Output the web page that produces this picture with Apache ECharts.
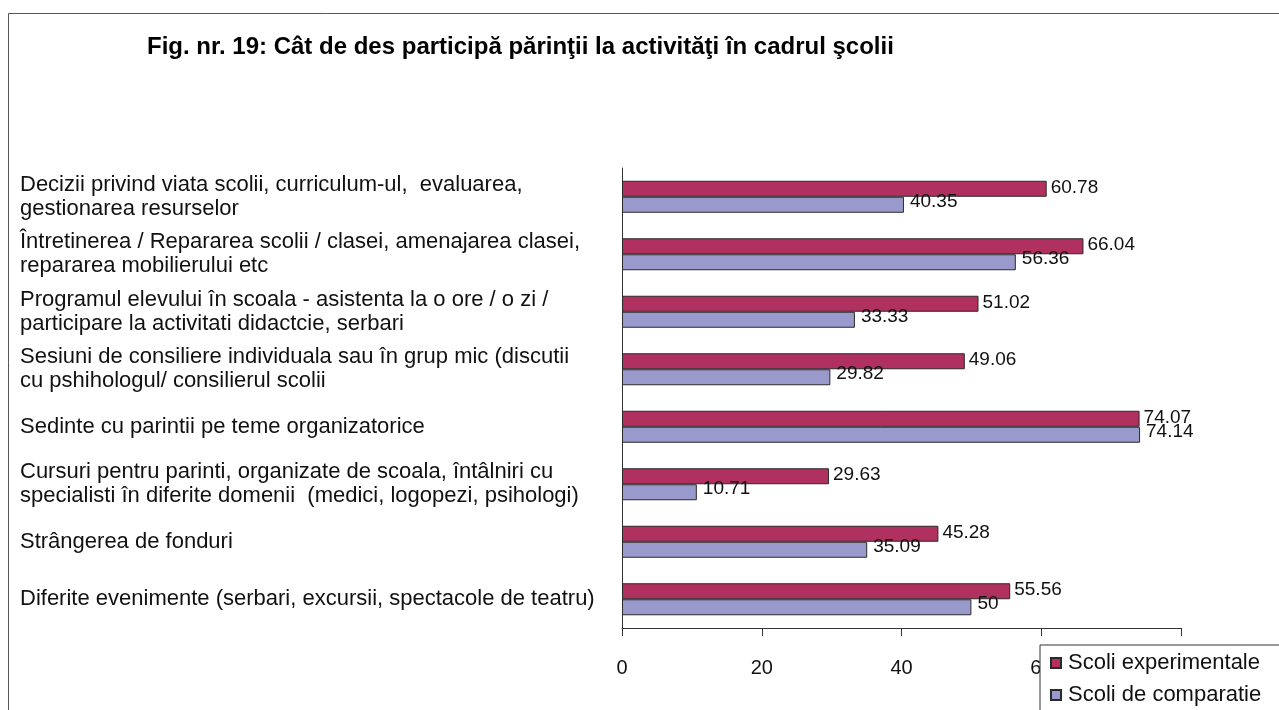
<!DOCTYPE html>
<html>
<head>
    <meta charset="utf-8" />
    <title>Fig. nr. 19</title>
    <script src="https://cdn.jsdelivr.net/npm/echarts@6/dist/echarts.min.js"></script>
    <style>
        html, body { margin: 0; padding: 0; background: #fff; }
        #chart1 { width: 1279px; height: 710px; }
    </style>
</head>
<body>
    <div id="chart1"></div>
    <script type="text/javascript">
        // date din figura
        var categorii = [
            'Decizii privind viata scolii, curriculum-ul,  evaluarea,\ngestionarea resurselor',
            'Întretinerea / Repararea scolii / clasei, amenajarea clasei,\nrepararea mobilierului etc',
            'Programul elevului în scoala - asistenta la o ore / o zi /\nparticipare la activitati didactcie, serbari',
            'Sesiuni de consiliere individuala sau în grup mic (discutii\ncu pshihologul/ consilierul scolii',
            'Sedinte cu parintii pe teme organizatorice',
            'Cursuri pentru parinti, organizate de scoala, întâlniri cu\nspecialisti în diferite domenii  (medici, logopezi, psihologi)',
            'Strângerea de fonduri',
            'Diferite evenimente (serbari, excursii, spectacole de teatru)'
        ];
        var experimentale = [60.78, 66.04, 51.02, 49.06, 74.07, 29.63, 45.28, 55.56];
        var comparatie = [40.35, 56.36, 33.33, 29.82, 74.14, 10.71, 35.09, 50];
        var numeSerii = ['Scoli experimentale', 'Scoli de comparatie'];

        var font = 'Arial, "Liberation Sans", sans-serif';
        var myChart1 = echarts.init(document.getElementById('chart1'));
        var option = {
            animation: false,
            backgroundColor: '#fff',
            title: {
                text: 'Fig. nr. 19: Cât de des participă părinţii la activităţi în cadrul şcolii',
                left: 147,
                top: 35,
                padding: 0,
                textStyle: { fontFamily: font, fontSize: 24, fontWeight: 'bold', color: '#000' }
            },
            graphic: [{
                type: 'rect',
                shape: { x: 8.5, y: 13.5, width: 1300, height: 720 },
                style: { fill: null, stroke: '#555', lineWidth: 1 },
                silent: true
            }],
            legend: {
                orient: 'vertical',
                left: 1040,
                top: 645,
                height: 120,
                padding: [7, 40, 10, 10],
                itemGap: 10,
                itemWidth: 10,
                itemHeight: 10,
                icon: 'rect',
                backgroundColor: '#fff',
                borderColor: '#333',
                borderWidth: 1,
                textStyle: { fontFamily: font, fontSize: 22, color: '#111', padding: [0, 0, 0, 2] },
                data: numeSerii
            },
            grid: { left: 622, right: 98, top: 168, bottom: 82 },
            xAxis: {
                type: 'value',
                min: 0,
                max: 80,
                interval: 20,
                splitLine: { show: false },
                axisLine: { show: true, lineStyle: { color: '#333' } },
                axisTick: { show: true, length: 8, lineStyle: { color: '#333' } },
                axisLabel: { margin: 30, fontFamily: font, fontSize: 20, color: '#111' }
            },
            yAxis: {
                type: 'category',
                inverse: true,
                data: categorii,
                axisLine: { lineStyle: { color: '#333' } },
                axisTick: { length: 5, lineStyle: { color: '#333' } },
                axisLabel: {
                    align: 'left',
                    margin: 602,
                    fontFamily: font,
                    fontSize: 22,
                    lineHeight: 24,
                    color: '#111'
                }
            },
            series: [
                {
                    name: numeSerii[0],
                    type: 'bar',
                    data: experimentale,
                    barWidth: 16,
                    barGap: '0%',
                    itemStyle: { color: '#B03060', borderColor: '#2a2a2a', borderWidth: 1 },
                    label: {
                        show: true, position: 'right', distance: 4, offset: [0, -1],
                        fontFamily: font, fontSize: 19, color: '#111'
                    }
                },
                {
                    name: numeSerii[1],
                    type: 'bar',
                    data: comparatie,
                    barWidth: 16,
                    barGap: '0%',
                    itemStyle: { color: '#9999CC', borderColor: '#2a2a2a', borderWidth: 1 },
                    label: {
                        show: true, position: 'right', distance: 6, offset: [0, -3],
                        fontFamily: font, fontSize: 19, color: '#111'
                    }
                }
            ]
        };
        myChart1.setOption(option);
    </script>
</body>
</html>
